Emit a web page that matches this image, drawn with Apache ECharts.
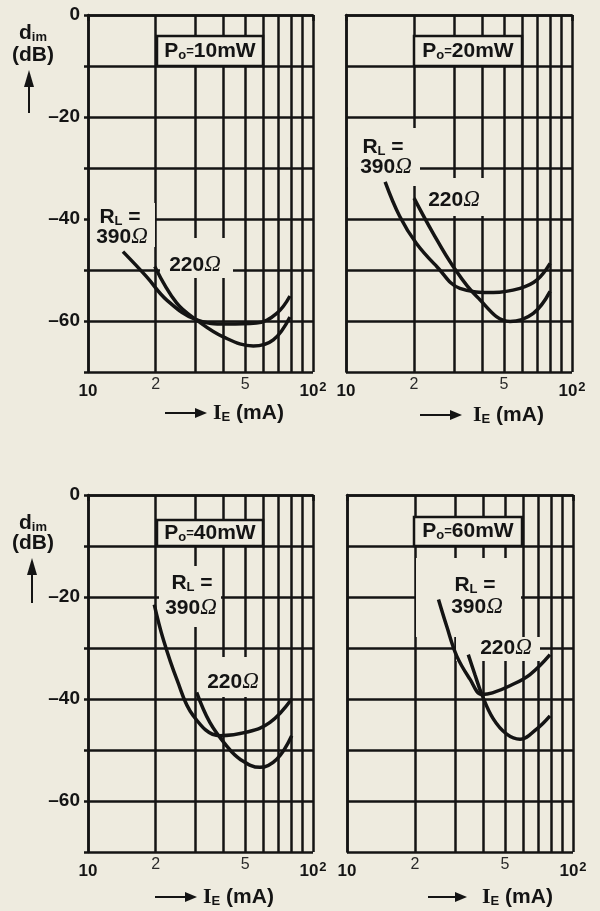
<!DOCTYPE html>
<html>
<head>
<meta charset="utf-8">
<script src="https://cdn.jsdelivr.net/npm/echarts@6/dist/echarts.min.js"></script>
<style>
  html, body { margin: 0; padding: 0; background: #eeebdf; }
  #chart { width: 600px; height: 911px; }
</style>
</head>
<body>
<div id="chart"></div>
<script>
// I_E in mA (log axis 10..100), d_im in dB
const xGridValues = [20, 30, 40, 50, 60, 70, 80, 90];
const xMidLabels = { 20: '2', 50: '5' };
const yMin = -70;
const yMax = 0;
const powerLabels = ['10mW', '20mW', '40mW', '60mW'];

// Po = 10 mW
const p10_390 = [[14.3, -46.4], [18.2, -51.3], [22.4, -55.9], [30.4, -59.8], [41.3, -60.6], [56, -60.4], [69, -58.5], [79, -55.1]];
const p10_220 = [[19.8, -49.3], [24.8, -56.5], [30.4, -59.8], [39.9, -63.1], [54.3, -64.9], [66.6, -63.7], [79, -59.2]];
// Po = 20 mW
const p20_390 = [[14.9, -32.7], [17.3, -39.5], [20.5, -44.8], [25.2, -49.3], [31.9, -53.6], [44.9, -54.4], [58.9, -53.6], [69.8, -52], [80, -48.7]];
const p20_220 = [[20, -35.9], [24.3, -42.8], [29.8, -49.3], [37.9, -55.2], [53.2, -60.1], [67.4, -58.5], [80, -54.2]];
// Po = 40 mW
const p40_390 = [[19.7, -21.5], [21.6, -28.3], [24.8, -36.1], [29.4, -43.3], [38.6, -47.2], [50.7, -46.5], [64.4, -44.6], [80.4, -40]];
const p40_220 = [[30.4, -38.7], [34.8, -44.6], [41.3, -49.2], [47.4, -51.8], [58.1, -53.4], [69, -51.8], [80.4, -47.2]];
// Po = 60 mW
const p60_390 = [[25.4, -20.5], [27.6, -25.7], [30.6, -31.6], [35, -36.1], [39.5, -39.1], [44, -38.8], [52.6, -37.4], [64.5, -35.2], [79.1, -31.3]];
const p60_220 = [[34.4, -31.3], [36.8, -35.2], [39.5, -39.1], [44.4, -43.9], [50.9, -46.9], [58.3, -47.9], [69, -45.9], [79.1, -43.3]];

const curves = [[p10_390, p10_220], [p20_390, p20_220], [p40_390, p40_220], [p60_390, p60_220]];

const INK = '#141414';
const BG = '#eeebdf';
const SANS = '"Liberation Sans", Arial, sans-serif';
const SERIF = '"Liberation Serif", serif';

const grids = [
  { left: 88, top: 15, width: 225, height: 357 },
  { left: 346, top: 15, width: 226, height: 357 },
  { left: 88, top: 495, width: 225, height: 357 },
  { left: 347, top: 495, width: 226, height: 357 }
];

const chart = echarts.init(document.getElementById('chart'));

const xAxes = grids.map((g, i) => ({
  type: 'log',
  logBase: 10,
  min: 10,
  max: 100,
  gridIndex: i,
  axisLine: { show: true, lineStyle: { color: INK, width: 2.5 } },
  axisTick: { show: true, length: 6, lineStyle: { color: INK, width: 2.5 } },
  axisLabel: {
    margin: 9,
    formatter: v => (v < 50 ? '{b|10}' : '{b|10}{s|2}'),
    rich: {
      b: { fontFamily: SANS, fontWeight: 'bold', fontSize: 17, color: INK, lineHeight: 20 },
      s: { fontFamily: SANS, fontWeight: 'bold', fontSize: 13, color: INK, verticalAlign: 'top', padding: [0, 0, 0, 1] }
    }
  },
  splitLine: { show: true, lineStyle: { color: INK, width: 2.5 } }
}));

const yAxes = grids.map((g, i) => ({
  type: 'value',
  min: yMin,
  max: yMax,
  interval: 10,
  gridIndex: i,
  axisLine: { show: true, lineStyle: { color: INK, width: 2.5 } },
  axisTick: { show: i % 2 === 0, length: 4, lineStyle: { color: INK, width: 2.5 } },
  axisLabel: {
    show: i % 2 === 0,
    margin: 8,
    fontFamily: SANS,
    fontWeight: 'bold',
    fontSize: 19,
    color: INK,
    formatter: v => (v % 20 === 0 ? (v < 0 ? '\u2013' + (-v) : String(v)) : '')
  },
  splitLine: { show: true, lineStyle: { color: INK, width: 2.5 } }
}));

const series = [];
grids.forEach((g, i) => {
  // minor log grid lines 20..90 with the "2" and "5" labels
  series.push({
    type: 'line',
    xAxisIndex: i,
    yAxisIndex: i,
    data: [],
    z: 1,
    silent: true,
    markLine: {
      silent: true,
      symbol: 'none',
      animation: false,
      emphasis: { disabled: true },
      lineStyle: { color: INK, width: 2.5, type: 'solid' },
      label: { show: false },
      data: xGridValues.map(v => ({
        xAxis: v,
        label: {
          show: xMidLabels[v] != null,
          position: 'start',
          distance: 5,
          formatter: xMidLabels[v] || '',
          fontFamily: SANS,
          fontSize: 16,
          color: '#2a2a2a'
        }
      }))
    }
  });
  curves[i].forEach(c => {
    series.push({
      type: 'line',
      xAxisIndex: i,
      yAxisIndex: i,
      data: c,
      smooth: 0.4,
      symbol: 'none',
      z: 30,
      lineStyle: { color: INK, width: 3.5 }
    });
  });
});

const textRich = {
  b: { fontFamily: SANS, fontWeight: 'bold', fontSize: 19, fill: INK },
  t: { fontFamily: SANS, fontWeight: 'bold', fontSize: 21, fill: INK },
  sub: { fontFamily: SANS, fontWeight: 'bold', fontSize: 13, fill: INK, verticalAlign: 'bottom', padding: [8, 0, 0, 0] },
  eq: { fontFamily: SANS, fontWeight: 'bold', fontSize: 13, fill: INK },
  om: { fontFamily: SERIF, fontStyle: 'italic', fontSize: 23, fill: INK },
  iv: { fontFamily: SERIF, fontWeight: 'bold', fontSize: 22, fill: INK }
};

function txt(x, y, s, align) {
  return {
    type: 'text', z: 20, x: x, y: y, silent: true,
    style: { text: s, rich: textRich, align: align || 'center', verticalAlign: 'middle', fill: INK }
  };
}
function cover(x, y, w, h) {
  return { type: 'rect', z: 15, silent: true, shape: { x: x, y: y, width: w, height: h }, style: { fill: BG } };
}
function box(x, y, w, h) {
  return { type: 'rect', z: 16, silent: true, shape: { x: x, y: y, width: w, height: h }, style: { fill: BG, stroke: INK, lineWidth: 2.5 } };
}
function hArrow(x1, x2, y) {
  return [
    { type: 'line', z: 20, silent: true, shape: { x1: x1, y1: y, x2: x2 - 8, y2: y }, style: { stroke: INK, lineWidth: 2 } },
    { type: 'polygon', z: 20, silent: true, shape: { points: [[x2 - 12, y - 5], [x2, y], [x2 - 12, y + 5]] }, style: { fill: INK } }
  ];
}
function vArrow(x, y1, y2) {
  return [
    { type: 'line', z: 20, silent: true, shape: { x1: x, y1: y1, x2: x, y2: y2 + 8 }, style: { stroke: INK, lineWidth: 2 } },
    { type: 'polygon', z: 20, silent: true, shape: { points: [[x - 5, y2 + 17], [x, y2], [x + 5, y2 + 17]] }, style: { fill: INK } }
  ];
}
const ieText = '{iv|I}{sub|E}{t| (mA)}';
const rlText = '{t|R}{sub|L}{t| =}';
const r390 = '{t|390}{om|Ω}';
const r220 = '{t|220}{om|Ω}';
const po = p => '{t|P}{sub|o}{eq|=}{t|' + p + '}';

const elements = [
  // axis titles
  txt(33, 33, '{t|d}{sub|im}'), txt(33, 55, '{t|(dB)}'),
  ...vArrow(29, 113, 70),
  txt(33, 523, '{t|d}{sub|im}'), txt(33, 543, '{t|(dB)}'),
  ...vArrow(32, 603, 558),
  ...hArrow(165, 207, 413), txt(213, 413, ieText, 'left'),
  ...hArrow(420, 462, 415), txt(473, 415, ieText, 'left'),
  ...hArrow(155, 197, 897), txt(203, 897, ieText, 'left'),
  ...hArrow(428, 467, 897), txt(482, 897, ieText, 'left'),

  // Po = 10 mW
  box(157, 36, 106, 30), txt(210, 51, po(powerLabels[0])),
  cover(90, 203, 65, 44), txt(120, 217, rlText), txt(122, 237, r390),
  cover(160, 238, 73, 40), txt(195, 265, r220),
  // Po = 20 mW
  box(414, 36, 108, 30), txt(468, 51, po(powerLabels[1])),
  cover(348, 128, 72, 58), txt(383, 147, rlText), txt(386, 167, r390),
  cover(422, 178, 66, 38), txt(454, 200, r220),
  // Po = 40 mW
  box(157, 520, 106, 26), txt(210, 533, po(powerLabels[2])),
  cover(159, 566, 62, 61), txt(192, 583, rlText), txt(191, 608, r390),
  cover(200, 657, 62, 40), txt(233, 682, r220),
  // Po = 60 mW
  box(414, 517, 108, 29), txt(468, 531, po(powerLabels[3])),
  cover(416, 558, 105, 79), cover(456, 637, 84, 24),
  txt(475, 585, rlText), txt(477, 607, r390), txt(506, 648, r220)
];

chart.setOption({
  backgroundColor: BG,
  animation: false,
  grid: grids.map(g => Object.assign({ show: false, containLabel: false }, g)),
  xAxis: xAxes,
  yAxis: yAxes,
  series: series,
  graphic: { elements: elements }
});

window.addEventListener('resize', () => chart.resize());
</script>
</body>
</html>
